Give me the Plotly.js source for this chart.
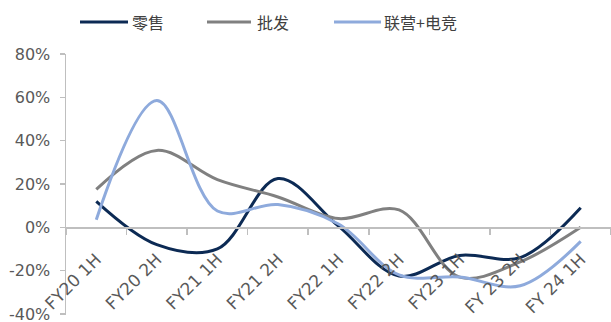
<!DOCTYPE html>
<html>
<head>
<meta charset="utf-8">
<script src="https://cdn.plot.ly/plotly-3.0.1.min.js"></script>
<style>
  html, body { margin: 0; padding: 0; background: #ffffff; }
  #chart { width: 611px; height: 322px; }
</style>
</head>
<body>
<div id="chart"></div>
<script>
// Half-year periods on the category axis
const periods = ['FY20 1H', 'FY20 2H', 'FY21 1H', 'FY21 2H', 'FY22 1H', 'FY22 2H', 'FY23 1H', 'FY 23 2H', 'FY 24 1H'];

// Growth rates by channel, in percent
const retail = [12, -8, -10, 22.5, 0.5, -22.5, -13, -14, 9];
const wholesale = [17.5, 35.5, 22, 14, 4, 8, -23, -16, 0];
const jointOps = [3.5, 58.5, 7.5, 10.5, 1.5, -22, -23, -27, -6.5];

const seriesNames = ['零售', '批发', '联营+电竞'];
const seriesColors = ['#0c2a54', '#808080', '#8eaadc'];
const seriesValues = [retail, wholesale, jointOps];

const yTicks = [-40, -20, 0, 20, 40, 60, 80];
const yTickText = yTicks.map(v => v + '%');

const W = 611, H = 322;
const M = { l: 66, r: 0, t: 54, b: 7 };
const plotW = W - M.l - M.r, plotH = H - M.t - M.b;
// pixel -> paper helpers for the hand-placed legend
const px = x => (x - M.l) / plotW;
const py = y => (H - M.b - y) / plotH;

const FONT = '"DejaVu Sans", "Noto Sans CJK SC", sans-serif';

const traces = seriesValues.map((vals, i) => ({
  type: 'scatter',
  mode: 'lines',
  x: periods,
  y: vals,
  name: seriesNames[i],
  line: { color: seriesColors[i], width: 3, shape: 'spline', smoothing: 1 },
  hoverinfo: 'skip',
  showlegend: false
}));

// Legend: short line sample followed by the series name
const legendItems = [
  { x0: 80, x1: 128, tx: 130 },
  { x0: 207, x1: 251, tx: 255 },
  { x0: 334, x1: 381, tx: 382 }
];
const legendY = 22;
const shapes = legendItems.map((it, i) => ({
  type: 'line', xref: 'paper', yref: 'paper',
  x0: px(it.x0), x1: px(it.x1), y0: py(legendY), y1: py(legendY),
  line: { color: seriesColors[i], width: 3 }
}));
const annotations = legendItems.map((it, i) => ({
  xref: 'paper', yref: 'paper',
  x: px(it.tx), y: py(legendY),
  xanchor: 'left', yanchor: 'middle',
  text: seriesNames[i], showarrow: false,
  font: { family: '"Noto Sans CJK SC", sans-serif', size: 16, color: '#404040' }
}));

const yMin = -40.5, yMax = 80;

const layout = {
  width: W, height: H,
  margin: M,
  paper_bgcolor: '#ffffff',
  plot_bgcolor: '#ffffff',
  font: { family: FONT, size: 16, color: '#595959' },
  showlegend: false,
  xaxis: {
    type: 'category',
    range: [-0.5, periods.length - 0.5],
    anchor: 'free',
    position: (0 - yMin) / (yMax - yMin),
    showline: true, linecolor: '#bfbfbf', linewidth: 1.5,
    ticks: 'outside', tickson: 'boundaries', ticklen: 6, tickcolor: '#bfbfbf', tickwidth: 1.5,
    tickangle: -45,
    ticklabelstandoff: 14,
    ticklabeloverflow: 'allow',
    tickfont: { family: FONT, size: 17, color: '#595959' },
    showgrid: false, zeroline: false, fixedrange: true
  },
  yaxis: {
    range: [yMin, yMax],
    tickvals: yTicks, ticktext: yTickText,
    showline: true, linecolor: '#bfbfbf', linewidth: 1.5,
    ticks: 'outside', ticklen: 5, tickcolor: '#bfbfbf', tickwidth: 1.5,
    ticklabelstandoff: 6,
    ticklabeloverflow: 'allow',
    tickfont: { family: FONT, size: 16, color: '#595959' },
    showgrid: false, zeroline: false, fixedrange: true
  },
  shapes: shapes,
  annotations: annotations
};

Plotly.newPlot('chart', traces, layout, { staticPlot: true, displayModeBar: false });
</script>
</body>
</html>
